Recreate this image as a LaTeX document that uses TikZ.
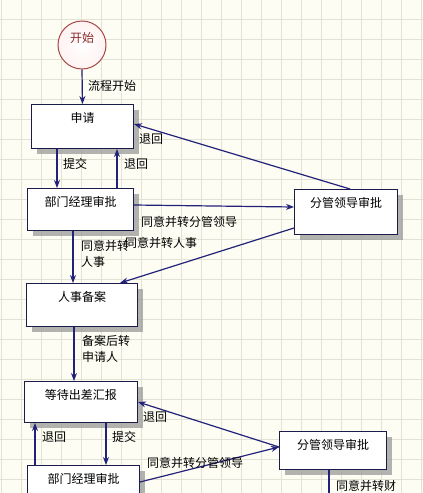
\documentclass[tikz,border=0pt]{standalone}
\usepackage{fontspec}
\setmainfont{Noto Sans CJK SC}
\usetikzlibrary{arrows.meta,shadows,calc}
\definecolor{bg}{HTML}{FDFDF3}
\definecolor{gridc}{HTML}{E3E3D5}
\definecolor{navy}{HTML}{22227A}
\definecolor{boxborder}{HTML}{1C1C4C}
\definecolor{startred}{HTML}{A84848}
\definecolor{starttext}{HTML}{8A2A2A}
\begin{document}
\begin{tikzpicture}[x=1pt,y=-1pt,
  font=\fontsize{12}{16}\selectfont,
  box/.style={draw=boxborder, line width=1pt, fill=white, inner sep=0pt,
    anchor=north west, text height=17.5pt,
    drop shadow={shadow xshift=5pt, shadow yshift=-5pt, fill=black!40, opacity=0.75}},
  startc/.style={circle, draw=startred, line width=1pt, shade, inner color=white,
    outer color=red!5, minimum size=48pt, inner sep=0pt},
  arr/.style={draw=navy, line width=1.2pt, -{Stealth[length=8pt,width=6pt]}},
  plain/.style={draw=navy, line width=1.2pt},
  lbl/.style={anchor=west, inner sep=0pt, align=left}]
\clip (0,0) rectangle (423,493);
\fill[bg] (0,0) rectangle (423,493);
\foreach \x in {1,21,...,421} \draw[gridc, line width=0.8pt] (\x,0) -- (\x,493);
\foreach \y in {19,39,...,479} \draw[gridc, line width=0.8pt] (0,\y) -- (423,\y);

% start
\node[startc] (start) at (82,45) {};
\node[text=starttext, inner sep=0pt] (starttxt) at (82,38) {开始};

% boxes
\node[box, minimum width=102pt, text depth=26.5pt] (sq) at (31,104) {申请};
\node[box, minimum width=106pt, text depth=24.5pt] (bm1) at (27,188) {部门经理审批};
\node[box, minimum width=103pt, text depth=27.5pt] (fg1) at (294,189) {分管领导审批};
\node[box, minimum width=111pt, text depth=25.5pt] (rs) at (26,283) {人事备案};
\node[box, minimum width=113pt, text depth=23.5pt] (dd) at (24,381) {等待出差汇报};
\node[box, minimum width=112pt, text depth=24.5pt] (bm2) at (27,465) {部门经理审批};
\node[box, minimum width=107pt, text depth=20.5pt] (fg2) at (279,431) {分管领导审批};
\coordinate (offbottom) at (329,505);

% connectors
\draw[arr] (start.south) -- (sq.north);
\draw[arr] ([xshift=26pt]sq.south west) -- ([xshift=30pt]bm1.north west);
\draw[arr] ([xshift=90pt]bm1.north west) -- ([xshift=86pt]sq.south west);
\draw[arr] ([xshift=56pt]fg1.north west) -- ([yshift=-20pt]sq.north east);
\draw[arr] ([yshift=-17pt]bm1.north east) -- ([yshift=-18pt]fg1.north west);
\draw[arr] ([yshift=-39pt]fg1.north west) -- ([xshift=94pt]rs.north west);
\draw[arr] ([xshift=46pt]bm1.south west) -- ([xshift=47pt]rs.north west);
\draw[arr] ([xshift=48pt]rs.south west) -- ([xshift=50pt]dd.north west);
\draw[arr] ([yshift=-16pt]fg2.north west) -- ([yshift=-21pt]dd.north east);
\draw[arr] ([xshift=82pt]dd.south west) -- ([xshift=79pt]bm2.north west);
\draw[arr] ([xshift=8pt]bm2.north west) -- ([xshift=11pt]dd.south west);
\draw[arr] ([yshift=-17pt]bm2.north east) -- ([yshift=-16pt]fg2.north west);
\draw[plain] ([xshift=50pt]fg2.south west) -- (offbottom);

% labels
\node[lbl] (l1) at (88,86) {流程开始};
\node[lbl] (l2) at (63,164) {提交};
\node[lbl] (l3) at (124,164) {退回};
\node[lbl] (l4) at (139,139) {退回};
\node[lbl] (l5) at (141,222) {同意并转分管领导};
\node[lbl] (l6) at (125,243) {同意并转人事};
\node[lbl] (l7) at (81,253.5) {同意并转\\人事};
\node[lbl] (l8) at (82,349) {备案后转\\申请人};
\node[lbl] (l9) at (143,417) {退回};
\node[lbl] (l10) at (42,437) {退回};
\node[lbl] (l11) at (112,437) {提交};
\node[lbl] (l12) at (147,463) {同意并转分管领导};
\node[lbl] (l13) at (336,486) {同意并转财};
\end{tikzpicture}
\end{document}
